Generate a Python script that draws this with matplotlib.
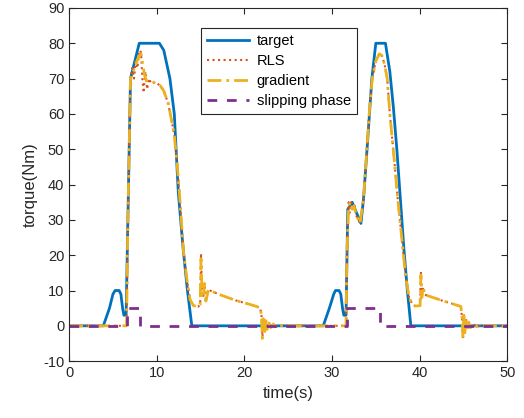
import matplotlib
matplotlib.use('Agg')
import matplotlib.pyplot as plt

plt.rcParams['font.family'] = ['Liberation Sans', 'DejaVu Sans']
plt.rcParams['axes.unicode_minus'] = False

# target torque (s, Nm)
target_t = [0, 3.9, 4.6, 5.0, 5.25, 5.7, 5.9, 6.1, 6.25, 6.5, 7.0, 8.0, 10.3, 10.8, 11.5, 12.0,
            12.45, 13.0, 13.5, 14.0, 29.0, 29.7, 30.2, 30.4, 30.8, 31.0, 31.2, 31.35, 31.6, 31.8,
            32.3, 32.8, 33.3, 33.6, 34.0, 34.55, 35.0, 36.1, 36.6, 37.0, 37.4, 37.8, 38.2, 38.6,
            39.0, 50]
target_v = [0, 0, 5, 9, 10, 10, 9, 5, 3, 3, 70, 80, 80, 78, 70, 60,
            38, 22, 10, 0, 0, 5, 9, 10, 10, 9, 5, 3, 3, 33,
            35, 32, 29, 36, 50, 70, 80, 80, 72, 62, 50, 36, 22, 10,
            0, 0]

# gradient estimate
grad_t = [0, 6.55, 6.7, 7.0, 7.3, 7.6, 7.9, 8.2, 8.4, 8.6, 8.8, 9.2, 9.6, 10.0, 10.4, 10.8,
          11.3, 11.7, 12.0, 12.35, 12.6, 13.05, 13.5, 13.8, 14.2, 14.7, 14.95, 15.05, 15.15,
          15.3, 15.45, 15.6, 15.9, 17.0, 19.0, 21.0, 21.8, 21.95, 22.05, 22.15, 22.3, 22.45,
          22.6, 22.8, 23.0, 23.3, 23.6, 24.0, 24.5, 31.6, 31.7, 31.9, 32.1, 32.3, 32.5, 32.7,
          33.0, 33.2, 33.6, 33.9, 34.3, 34.6, 35.0, 35.4, 35.7, 36.0, 36.3, 36.6, 37.1, 37.5,
          38.0, 38.4, 38.8, 39.2, 39.5, 40.05, 40.15, 40.25, 40.4, 40.6, 42.5, 44.7, 44.85,
          44.95, 45.05, 45.15, 45.3, 45.45, 45.6, 45.8, 46.1, 46.5, 47.0, 50]
grad_v = [0, 0, 30, 70, 72, 74, 76, 77, 74, 71, 69.5, 69, 69, 68.5, 68, 66.5,
          63, 58, 54, 45, 37, 21, 12, 7.4, 5.7, 5.4, 6, 19, 11,
          8, 12, 7, 10.2, 9, 7.2, 5.8, 5.1, 3, -3.5, 2, -2, 1.5,
          -1, 0.8, -0.5, 0.5, -0.3, 0.2, 0, 0, 20, 34, 35, 33, 34, 32,
          30, 29, 36, 47, 62, 70, 75, 77, 76.5, 74, 70, 60, 47, 36,
          24, 14, 8, 6, 5.6, 5.7, 14.4, 8, 11, 8.8, 7.2, 5.5, 2,
          -3.4, 3, -2, 2, -1, 1, -0.5, 0.4, -0.2, 0, 0]

# RLS estimate
rls_t = [0, 6.55, 6.7, 7.0, 7.2, 7.4, 7.6, 7.8, 8.0, 8.2, 8.35, 8.5, 8.7, 8.9, 9.1, 9.4,
         9.8, 10.4, 10.8, 11.3, 11.7, 12.0, 12.35, 12.6, 13.05, 13.5, 13.8, 14.2, 14.7, 14.95,
         15.05, 15.15, 15.3, 15.45, 15.6, 15.9, 17.0, 19.0, 21.0, 21.8, 21.95, 22.05, 22.15,
         22.3, 22.45, 22.6, 22.8, 23.0, 23.3, 23.6, 24.0, 24.5, 31.6, 31.7, 31.9, 32.0, 32.2,
         32.4, 32.6, 32.8, 33.0, 33.2, 33.6, 33.9, 34.3, 34.6, 35.0, 35.4, 35.7, 36.0, 36.3,
         36.6, 37.1, 37.5, 38.0, 38.4, 38.8, 39.2, 39.5, 40.05, 40.15, 40.25, 40.4, 40.6, 42.5,
         44.7, 44.85, 44.95, 45.05, 45.15, 45.3, 45.45, 45.6, 45.8, 46.1, 46.5, 47.0, 50]
rls_v = [0, 0, 30, 70, 73, 70, 75, 73, 78, 77.5, 70, 66, 72, 67, 70, 68.5,
         69, 68, 66.5, 63, 58, 54, 45, 37, 21, 12, 7.4, 5.7, 5.4, 6,
         20.5, 11, 8, 12, 7, 10.2, 9, 7.2, 5.8, 5.1, 3, -3.8, 2,
         -2, 1.5, -1, 0.8, -0.5, 0.5, -0.3, 0.2, 0, 0, 20, 35, 32, 35,
         33, 34, 31, 30, 29, 36, 47, 62, 70, 75, 77, 76.5, 74, 70,
         60, 47, 36, 24, 14, 8, 6, 5.6, 5.7, 15, 8, 11, 8.8, 7.2,
         5.5, 2, -3.8, 3, -2, 2, -1, 1, -0.5, 0.4, -0.2, 0, 0]

# slipping phase flag
slip_t = [0, 6.6, 6.6, 8.1, 8.1, 31.7, 31.7, 35.5, 35.5, 50]
slip_v = [0, 0, 5, 5, 0, 0, 5, 5, 0, 0]

fig = plt.figure(figsize=(5.24, 4.18), dpi=100)
ax = fig.add_axes([0.132, 0.136, 0.836, 0.845])

ax.plot(target_t, target_v, color='#0072BD', lw=2, label='target')
ax.plot(rls_t, rls_v, color='#D95319', lw=1.5, ls=':', label='RLS')
ax.plot(grad_t, grad_v, color='#EDB120', lw=2, dashes=(5, 1.8, 1, 1.8), label='gradient')
ax.plot(slip_t, slip_v, color='#7E2F8E', lw=2, dashes=(3.5, 3.5), label='slipping phase')

ax.set_xlim(0, 50)
ax.set_ylim(-10, 90)
ax.set_xticks(range(0, 51, 10))
ax.set_yticks(range(-10, 91, 10))
ax.tick_params(direction='in', top=True, right=True, labelsize=10.5, colors='#262626',
               length=4, width=0.8)
for s in ax.spines.values():
    s.set_color('#262626')
    s.set_linewidth(0.8)
ax.set_xlabel('time(s)', fontsize=12, color='#262626')
ax.set_ylabel('torque(Nm)', fontsize=12, color='#262626')

leg = ax.legend(loc='upper left', bbox_to_anchor=(0.30, 0.944), borderaxespad=0,
                fontsize=10.5, handlelength=2.9, fancybox=False, framealpha=1,
                edgecolor='#262626', borderpad=0.45, labelspacing=0.4, handletextpad=0.5)
leg.get_frame().set_linewidth(0.8)

plt.savefig('out.png', dpi=100)
